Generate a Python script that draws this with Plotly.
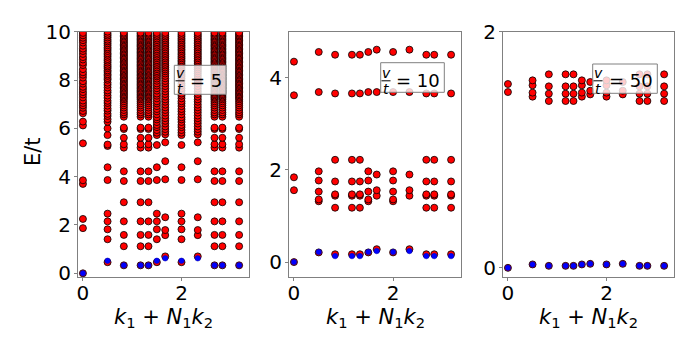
import plotly.graph_objects as go

FONT = "DejaVu Sans"
FRAME = "#808080"
W, H = 698, 349

# column positions k1 + N1 k2 (same for every panel)
K_ZERO = [0.0]
K_A = [0.5, 1.5, 2.0]
K_B = [0.83, 1.17, 1.33, 2.67, 2.83, 3.17]
K_C = [1.67, 2.33]

# ---- V/t = 5 : red levels per column group
E5_ZERO = [0.0, 1.87, 2.25, 3.70, 3.85, 5.38, 6.12, 6.28, 6.62, 6.72, 6.85, 6.95,
           7.05, 7.15, 7.28, 7.40, 7.50, 7.62, 7.72, 7.85, 7.95, 8.10, 8.22, 8.32,
           8.45, 8.62, 8.72, 8.85, 8.95, 9.08, 9.20, 9.30, 9.42, 9.55, 9.65, 9.75,
           9.85, 9.95]
E5_A1 = [0.46, 1.41, 1.82, 2.15, 2.47, 3.86, 4.39, 5.27, 5.33, 5.72, 6.00, 6.27,
         6.38, 6.51, 6.60, 6.73, 6.82, 6.94, 7.05, 7.14, 7.26, 7.36, 7.48, 7.57,
         7.69, 7.80, 7.89, 8.01, 8.08, 8.17, 8.24, 8.33, 8.40, 8.49, 8.56, 8.63,
         8.72, 8.80, 8.87, 8.96, 9.04, 9.11, 9.20, 9.28, 9.35, 9.44, 9.52, 9.60,
         9.67, 9.76, 9.84, 9.91, 10.0]
E5_A2 = [0.46, 1.41, 1.82, 2.15, 2.47, 3.86, 4.39, 5.31, 5.72, 5.82, 5.93, 6.05,
         6.14, 6.26, 6.37, 6.46, 6.58, 6.70, 6.80, 6.92, 7.03, 7.12, 7.24, 7.35,
         7.44, 7.56, 7.66, 7.77, 7.86, 7.97, 8.06, 8.15, 8.22, 8.30, 8.37, 8.45,
         8.52, 8.60, 8.67, 8.75, 8.82, 8.90, 8.97, 9.05, 9.12, 9.20, 9.27, 9.35,
         9.42, 9.50, 9.57, 9.65, 9.72, 9.80, 9.87, 9.95]
E5_B = [0.33, 1.12, 1.59, 2.15, 2.94, 3.82, 4.22, 5.20, 5.34, 5.61, 5.97, 6.03,
        6.48, 6.58, 6.66, 6.76, 6.86, 6.95, 7.04, 7.12, 7.20, 7.26, 7.31, 7.37,
        7.42, 7.48, 7.53, 7.58, 7.64, 7.69, 7.75, 7.80, 7.85, 7.91, 7.96, 8.02,
        8.07, 8.12, 8.18, 8.23, 8.29, 8.34, 8.39, 8.45, 8.50, 8.56, 8.61, 8.66,
        8.72, 8.77, 8.83, 8.88, 8.93, 8.99, 9.04, 9.10, 9.15, 9.20, 9.26, 9.31,
        9.37, 9.42, 9.47, 9.53, 9.58, 9.64, 9.69, 9.74, 9.80, 9.85, 9.91, 9.96]
E5_C = [0.70, 1.58, 1.79, 2.32, 3.89, 4.64, 5.42, 5.75, 5.86, 5.97, 6.08, 6.20,
        6.31, 6.42, 6.53, 6.65, 6.76, 6.87, 6.98, 7.10, 7.20, 7.31, 7.42, 7.53,
        7.64, 7.75, 7.86, 7.96, 8.07, 8.17, 8.27, 8.36, 8.44, 8.52, 8.60, 8.67,
        8.75, 8.82, 8.90, 8.97, 9.05, 9.12, 9.20, 9.27, 9.35, 9.42, 9.50, 9.57,
        9.65, 9.72, 9.80, 9.87, 9.95]
G5 = {"zero": 0.0, "a": 0.52, "b": 0.33, "c": 0.62}

# ---- V/t = 10
E10_ZERO = [0.0, 1.56, 1.84, 3.62, 4.35]
E10_A = [0.21, 1.32, 1.36, 1.53, 1.77, 1.97, 3.69, 4.56]
E10_B = [0.17, 1.18, 1.44, 1.47, 1.75, 2.22, 3.66, 4.50]
E10_C = [0.28, 1.44, 1.56, 1.90, 3.69, 4.61]
G10 = {"zero": 0.0, "a": 0.22, "b": 0.13, "c": 0.24}

# ---- V/t = 50
E50_ZERO = [0.0, 1.489, 1.557]
E50_A = [0.029, 1.450, 1.484, 1.546, 1.588]
E50_B = [0.017, 1.413, 1.475, 1.537, 1.639]
E50_C = [0.034, 1.469, 1.500, 1.574]
G50 = {"zero": 0.0, "a": 0.029, "b": 0.017, "c": 0.034}

PANELS = [
    dict(label="5", red={"zero": [(K_ZERO, E5_ZERO)], "a": [([0.5], E5_A1), ([1.5, 2.0], E5_A2)],
                         "b": [(K_B, E5_B)], "c": [(K_C, E5_C)]},
         ground=G5, yrange=[-0.165, 10], dom=(78, 249), box=(174.3, 226, 65.3, 94.3), frac=180),
    dict(label="10", red={"zero": [(K_ZERO, E10_ZERO)], "a": [(K_A, E10_A)],
                          "b": [(K_B, E10_B)], "c": [(K_C, E10_C)]},
         ground=G10, yrange=[-0.33, 5], dom=(289, 461), box=(380.7, 444.3, 62.7, 92.3), frac=386),
    dict(label="50", red={"zero": [(K_ZERO, E50_ZERO)], "a": [(K_A, E50_A)],
                          "b": [(K_B, E50_B)], "c": [(K_C, E50_C)]},
         ground=G50, yrange=[-0.08, 2], dom=(503, 674), box=(592.7, 657.3, 64, 93.3), frac=598),
]
GROUP_K = {"zero": K_ZERO, "a": K_A, "b": K_B, "c": K_C}


def px(x):
    return x / W


def py(y):
    return 1 - y / H


def label(text, x, y, size, **kw):
    return dict(text=text, x=px(x), y=py(y), xref="paper", yref="paper",
                xanchor=kw.pop("xanchor", "center"), yanchor="middle", showarrow=False,
                font=dict(size=size, family=FONT, color="black"), **kw)


fig = go.Figure()
shapes, annotations = [], []
layout = {}

for i, p in enumerate(PANELS):
    n = "" if i == 0 else str(i + 1)
    xs, ys = [], []
    for groups in p["red"].values():
        for ks, es in groups:
            for k in ks:
                xs += [k] * len(es)
                ys += es
    fig.add_trace(go.Scatter(
        x=xs, y=ys, xaxis="x" + n, yaxis="y" + n, mode="markers",
        marker=dict(size=7, color="#ff0000", line=dict(color="black", width=0.8)),
        showlegend=False,
    ))
    bx, by = [], []
    for g, e in p["ground"].items():
        for k in GROUP_K[g]:
            bx.append(k)
            by.append(e)
    fig.add_trace(go.Scatter(
        x=bx, y=by, xaxis="x" + n, yaxis="y" + n, mode="markers",
        marker=dict(size=5.5, color="#0000ff", line=dict(color="#0000aa", width=0.5)),
        showlegend=False,
    ))

    axis_common = dict(
        showline=True, mirror=True, linecolor=FRAME, linewidth=1,
        showgrid=False, zeroline=False, ticks="outside", ticklen=3,
        tickcolor=FRAME, tickfont=dict(size=20, color="black", family=FONT),
        dtick=2, tick0=0, automargin=False,
    )
    layout["xaxis" + n] = dict(axis_common, domain=[px(p["dom"][0]), px(p["dom"][1])],
                               range=[-0.1, 3.37], anchor="y" + n, ticklabelstandoff=-5)
    layout["yaxis" + n] = dict(axis_common, domain=[py(277.3), py(31.7)],
                               range=p["yrange"], anchor="x" + n, ticklabelstandoff=-1)

    # label box
    x0, x1, y0, y1 = p["box"]
    shapes.append(dict(type="rect", xref="paper", yref="paper",
                       x0=px(x0), x1=px(x1), y0=py(y1), y1=py(y0),
                       fillcolor="rgba(255,255,255,0.8)", line=dict(color=FRAME, width=1),
                       layer="above"))
    fc = p["frac"]
    shapes.append(dict(type="line", xref="paper", yref="paper",
                       x0=px(fc - 4.5), x1=px(fc + 4.5), y0=py(80.8), y1=py(80.8),
                       line=dict(color="black", width=1), layer="above"))
    annotations += [
        label("<i>v</i>", fc, 73, 14),
        label("<i>t</i>", fc, 88.5, 14),
        label("= " + p["label"], x1 - 2.5, 80.5, 18, xanchor="right"),
        label("<i>k</i><sub>1</sub> + <i>N</i><sub>1</sub><i>k</i><sub>2</sub>",
              (p["dom"][0] + p["dom"][1]) / 2, 318, 21),
    ]

annotations.append(label("E/t", 33, 152, 21, textangle=-90))

fig.update_layout(
    width=W, height=H,
    margin=dict(l=0, r=0, t=0, b=0),
    paper_bgcolor="white", plot_bgcolor="white",
    font=dict(family=FONT, color="black"),
    shapes=shapes, annotations=annotations,
    **layout,
)

fig.write_html("out.html", config={"displayModeBar": False},
               post_script="document.body.style.margin = '0';")
